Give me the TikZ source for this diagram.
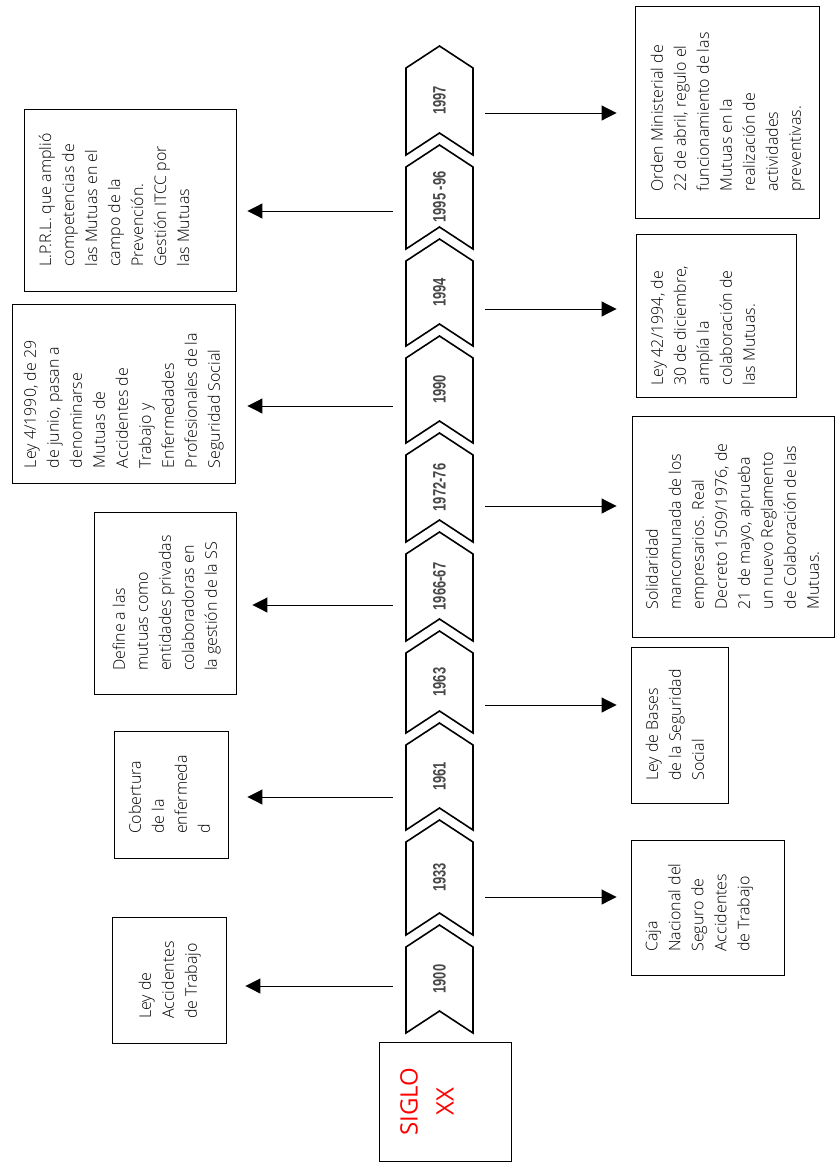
\documentclass[tikz,border=0pt]{standalone}
\usepackage{fontspec}
\setmainfont{Open Sans}[UprightFont=* Light]
\newfontfamily\siglofont{Open Sans}
\newfontfamily\yearfont[FakeStretch=0.72]{Liberation Sans}
\usepackage{graphicx}
\usetikzlibrary{arrows.meta}
\definecolor{siglored}{HTML}{FF0000}
\definecolor{yeargray}{HTML}{484848}

\tikzset{
  chevline/.style={draw=black, line width=1.6pt, line join=miter},
  evbox/.style={draw=black, line width=0.9pt, inner sep=0pt},
  evtext/.style={rotate=90, anchor=north, align=left, inner sep=0pt, font=\fontsize{16}{23}\selectfont},
  yearlbl/.style={minimum width=67pt, inner sep=0pt, text=yeargray, font=\yearfont\bfseries\fontsize{18}{18}\selectfont},
  arr/.style={line width=1pt, -{Triangle[length=15pt, width=15pt]}},
}

% one chevron of the time line: name, top point, bottom corners, year
\newcommand{\yearchev}[4]{%
  \draw[chevline] (406,#3) -- (406,#2+22) -- (439.5,#2) -- (473,#2+22) -- (473,#3) -- (439.5,#3-22) -- cycle;
  \node[yearlbl] (#1) at (439.5,{(#2+#3)/2}) {\rotatebox{90}{#4}};
}

\begin{document}
\begin{tikzpicture}[x=1pt, y=-1pt]
  \useasboundingbox (0,0) rectangle (835,1162);

  % time line
  \yearchev{y1900}{925}{1033}{1900}
  \yearchev{y1933}{820}{935}{1933}
  \yearchev{y1961}{723}{830}{1961}
  \yearchev{y1963}{631}{733}{1963}
  \yearchev{y1966}{532}{641}{1966-67}
  \yearchev{y1972}{433}{542}{1972-76}
  \yearchev{y1990}{336}{443}{1990}
  \yearchev{y1994}{239}{346}{1994}
  \yearchev{y1995}{145}{249}{1995 -96}
  \yearchev{y1997}{46}{155}{1997}

  % siglo
  \node[evbox, minimum width=132pt, minimum height=119pt] (siglo) at (445,1101.5) {};
  \node[rotate=90, align=center, inner sep=0pt, text=siglored, font=\siglofont\fontsize{24}{36}\selectfont] at ([xshift=-18pt]siglo.center) {SIGLO\\XX};

  % left side
  \node[evbox, minimum width=212pt, minimum height=182pt] (lprl) at (130,200) {};
  \node[evtext] at ([xshift=15pt]lprl.west) {L.P.R.L. que amplió\\competencias de\\las Mutuas en el\\campo de la\\Prevención.\\Gestión ITCC por\\las Mutuas};

  \node[evbox, minimum width=223pt, minimum height=179pt] (ley4) at (123.5,393.5) {};
  \node[evtext] at ([xshift=12pt, yshift=-7pt]ley4.west) {Ley 4/1990, de 29\\de junio, pasan a\\denominarse\\Mutuas de\\Accidentes de\\Trabajo y\\Enfermedades\\Profesionales de la\\Seguridad Social};

  \node[evbox, minimum width=142pt, minimum height=182pt] (define) at (165,603) {};
  \node[evtext] at ([xshift=19pt]define.west) {Define a las\\mutuas como\\entidades privadas\\colaboradoras en\\la gestión de la SS};

  \node[evbox, minimum width=114pt, minimum height=127pt] (cobert) at (171,794.5) {};
  \node[evtext] at ([xshift=15pt]cobert.west) {Cobertura\\de la\\enfermeda\\d};

  \node[evbox, minimum width=114pt, minimum height=126pt] (leyacc) at (169,980) {};
  \node[evtext] at ([xshift=27pt]leyacc.west) {Ley de\\Accidentes\\de Trabajo};

  % right side
  \node[evbox, minimum width=184pt, minimum height=212pt] (orden) at (727,112) {};
  \node[evtext] at ([xshift=16pt]orden.west) {Orden Ministerial de\\22 de abril, regulo el\\funcionamiento de las\\Mutuas  en la\\realización de\\actividades\\preventivas.};

  \node[evbox, minimum width=160pt, minimum height=163pt] (ley42) at (716,315.5) {};
  \node[evtext] at ([xshift=15pt, yshift=-10pt]ley42.west) {Ley 42/1994, de\\30 de diciembre,\\amplía la\\colaboración de\\las Mutuas.};

  \node[evbox, minimum width=202pt, minimum height=221pt] (solid) at (733,526.5) {};
  \node[evtext] at ([xshift=14pt]solid.west) {Solidaridad\\mancomunada de los\\empresarios. Real\\Decreto 1509/1976, de\\21 de mayo, aprueba\\un nuevo Reglamento\\de Colaboración de las\\Mutuas.};

  \node[evbox, minimum width=97pt, minimum height=156pt] (bases) at (679.5,725) {};
  \node[evtext] at ([xshift=15pt]bases.west) {Ley de Bases\\de la Seguridad\\Social};

  \node[evbox, minimum width=153pt, minimum height=135pt] (caja) at (707.5,907.5) {};
  \node[evtext] at ([xshift=15pt]caja.west) {Caja\\Nacional del\\Seguro de\\Accidentes\\de Trabajo};

  % arrows
  \draw[arr, shorten <=13pt, shorten >=11pt] (y1995.west |- 0,211) -- (lprl.east |- 0,211);
  \draw[arr, shorten <=13pt, shorten >=12pt] (y1990.west |- 0,406) -- (ley4.east |- 0,406);
  \draw[arr, shorten <=13pt, shorten >=16pt] (y1966.west |- 0,605) -- (define.east |- 0,605);
  \draw[arr, shorten <=13pt, shorten >=19pt] (y1961.west |- 0,797) -- (cobert.east |- 0,797);
  \draw[arr, shorten <=13pt, shorten >=19pt] (y1900.west |- 0,986) -- (leyacc.east |- 0,986);

  \draw[arr, shorten <=12pt, shorten >=18pt] (y1997.east |- 0,113) -- (orden.west |- 0,113);
  \draw[arr, shorten <=12pt, shorten >=19pt] (y1994.east |- 0,309) -- (ley42.west |- 0,309);
  \draw[arr, shorten <=12pt, shorten >=15pt] (y1972.east |- 0,506) -- (solid.west |- 0,506);
  \draw[arr, shorten <=12pt, shorten >=14pt] (y1963.east |- 0,705) -- (bases.west |- 0,705);
  \draw[arr, shorten <=12pt, shorten >=14pt] (y1933.east |- 0,897) -- (caja.west |- 0,897);
\end{tikzpicture}
\end{document}
